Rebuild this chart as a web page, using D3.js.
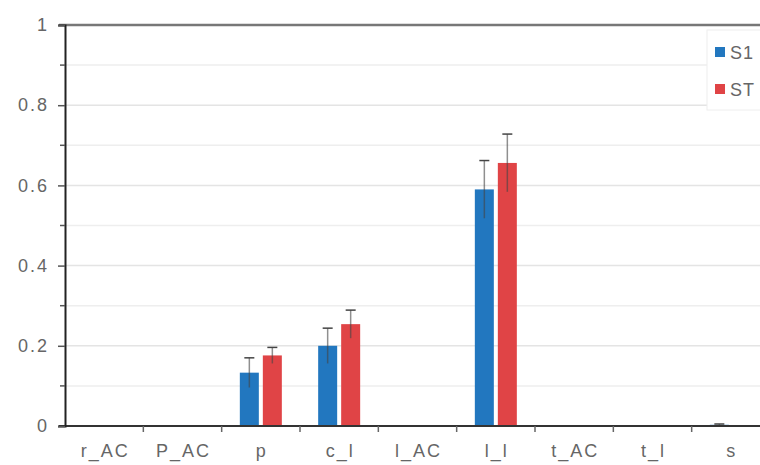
<!DOCTYPE html>
<html>
<head>
<meta charset="utf-8">
<script src="https://cdn.jsdelivr.net/npm/d3@7"></script>
<style>
  body { margin: 0; background: #fff; }
  svg { display: block; font-family: "Liberation Sans", Arial, sans-serif; }
</style>
</head>
<body>
<div class="canvas"></div>
<script>
const categories = ['r_AC', 'P_AC', 'p', 'c_l', 'l_AC', 'l_l', 't_AC', 't_l', 's'];
const seriesNames = ['S1', 'ST'];
const s1Values = [0, 0, 0.133, 0.2, 0, 0.59, 0, 0, 0.003];
const stValues = [0, 0, 0.176, 0.254, 0, 0.656, 0, 0, 0];
const s1Err = [0, 0, 0.037, 0.044, 0, 0.072, 0, 0, 0.002];
const stErr = [0, 0, 0.02, 0.035, 0, 0.072, 0, 0, 0];
const yTicks = [0, 0.2, 0.4, 0.6, 0.8, 1];
const colors = ['#2277bf', '#e04446'];

const dims = { width: 760, height: 465 };
const plot = { left: 65, right: 770, top: 25, bottom: 426 };

const svg = d3.select('.canvas')
  .append('svg')
  .attr('width', dims.width)
  .attr('height', dims.height);

const x = d3.scaleBand()
  .domain(categories)
  .range([plot.left, plot.right]);

const y = d3.scaleLinear()
  .domain([0, 1])
  .range([plot.bottom, plot.top]);

// grid lines, every 0.1
svg.append('g')
  .selectAll('line')
  .data(d3.range(1, 10).map(i => i / 10))
  .enter()
  .append('line')
    .attr('x1', plot.left)
    .attr('x2', dims.width)
    .attr('y1', d => y(d))
    .attr('y2', d => y(d))
    .attr('stroke', (d, i) => i % 2 ? '#e4e4e4' : '#eeeeee')
    .attr('stroke-width', 1.5);

// top border
svg.append('line')
  .attr('x1', plot.left - 6)
  .attr('x2', dims.width)
  .attr('y1', y(1))
  .attr('y2', y(1))
  .attr('stroke', '#777')
  .attr('stroke-width', 2.5);

const series = [
  { name: seriesNames[0], values: s1Values, err: s1Err, color: colors[0] },
  { name: seriesNames[1], values: stValues, err: stErr, color: colors[1] }
];

const barW = 19;
const gap = 4;
const offsets = [-barW - gap / 2, gap / 2];

series.forEach((s, si) => {
  const g = svg.append('g');
  const rows = categories.map((c, i) => ({ c, v: s.values[i], e: s.err[i] }));
  const bx = d => x(d.c) + x.bandwidth() / 2 + offsets[si];

  g.selectAll('rect')
    .data(rows.filter(d => d.v > 0))
    .enter()
    .append('rect')
      .attr('x', bx)
      .attr('width', barW)
      .attr('y', d => y(d.v))
      .attr('height', d => y(0) - y(d.v))
      .attr('fill', s.color);

  const eb = g.selectAll('g.err')
    .data(rows.filter(d => d.e > 0))
    .enter()
    .append('g')
      .attr('class', 'err')
      .attr('stroke', '#444')
      .attr('stroke-width', 1.5);

  const cx = d => bx(d) + barW / 2;
  eb.append('line')
    .attr('x1', cx).attr('x2', cx)
    .attr('y1', d => y(Math.max(0, d.v - d.e)))
    .attr('y2', d => y(d.v + d.e))
    .attr('stroke-opacity', 0.6);
  eb.append('line')
    .attr('x1', d => cx(d) - 5).attr('x2', d => cx(d) + 5)
    .attr('y1', d => y(d.v + d.e))
    .attr('y2', d => y(d.v + d.e));
});

// x axis
const xAxis = svg.append('g')
  .attr('transform', `translate(0, ${plot.bottom})`);
xAxis.append('line')
  .attr('x1', plot.left - 6)
  .attr('x2', dims.width)
  .attr('stroke', '#333')
  .attr('stroke-width', 2);
xAxis.selectAll('line.tick')
  .data(categories.slice(1))
  .enter()
  .append('line')
    .attr('class', 'tick')
    .attr('x1', d => x(d))
    .attr('x2', d => x(d))
    .attr('y1', 0)
    .attr('y2', 6)
    .attr('stroke', '#666')
    .attr('stroke-width', 1.5);
xAxis.selectAll('text')
  .data(categories)
  .enter()
  .append('text')
    .attr('x', d => x(d) + x.bandwidth() / 2 + 1)
    .attr('y', 31)
    .attr('text-anchor', 'middle')
    .attr('fill', '#666')
    .style('font-size', '18px')
    .style('letter-spacing', '2px')
    .text(d => d);

// y axis
const yAxis = svg.append('g')
  .attr('transform', `translate(${plot.left}, 0)`)
  .call(d3.axisLeft(y).tickValues(yTicks).tickSize(7).tickFormat(d3.format('~g')));
yAxis.select('.domain').attr('stroke', '#222').attr('stroke-width', 2);
yAxis.selectAll('.tick line').attr('stroke', '#555').attr('stroke-width', 1.5);
yAxis.selectAll('.tick text')
  .attr('fill', '#666')
  .attr('x', -16)
  .style('font-size', '18px')
  .style('letter-spacing', '2px');
yAxis.selectAll('line.minor')
  .data(d3.range(1, 10, 2).map(i => i / 10))
  .enter()
  .append('line')
    .attr('class', 'minor')
    .attr('x1', -5)
    .attr('x2', 0)
    .attr('y1', d => y(d))
    .attr('y2', d => y(d))
    .attr('stroke', '#555')
    .attr('stroke-width', 1.5);

// legend
const legend = svg.append('g')
  .attr('transform', 'translate(715, 47)');
legend.append('rect')
  .attr('x', -8).attr('y', -17)
  .attr('width', 60).attr('height', 80)
  .attr('fill', '#fff')
  .attr('stroke', '#eee');
const items = legend.selectAll('g.item')
  .data(series)
  .enter()
  .append('g')
    .attr('class', 'item')
    .attr('transform', (d, i) => `translate(0, ${i * 37})`);
items.append('rect')
  .attr('width', 10).attr('height', 10)
  .attr('fill', d => d.color);
items.append('text')
  .attr('x', 15)
  .attr('y', 12)
  .attr('fill', '#666')
  .style('font-size', '18px')
  .style('letter-spacing', '1px')
  .text(d => d.name);
</script>
</body>
</html>
